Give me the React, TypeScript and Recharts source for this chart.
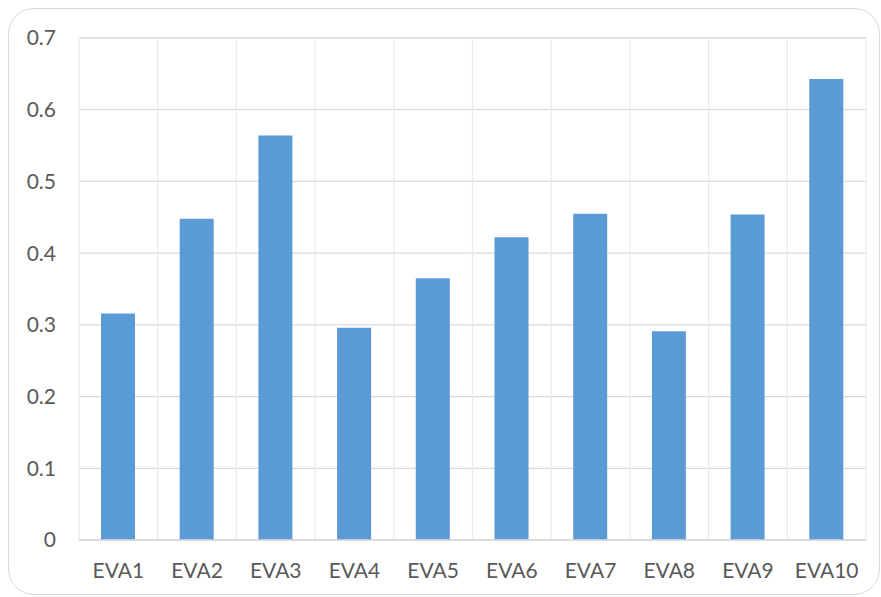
import React from "react";
import { BarChart, Bar, XAxis, YAxis, CartesianGrid } from "recharts";

const categories = ["EVA1", "EVA2", "EVA3", "EVA4", "EVA5", "EVA6", "EVA7", "EVA8", "EVA9", "EVA10"];
const values = [0.316, 0.448, 0.564, 0.296, 0.365, 0.422, 0.455, 0.291, 0.454, 0.643];
const yTicks = [0, 0.1, 0.2, 0.3, 0.4, 0.5, 0.6, 0.7];

const data = categories.map((name, i) => ({ name, value: values[i] }));

const FONT = "Lato, 'Open Sans', sans-serif";
const TEXT = "#595959";

export default function App() {
  return (
    <div style={{ position: "absolute", left: 0, top: 0, width: 881, height: 597, background: "#fff", overflow: "hidden" }}>
      <div
        style={{
          position: "absolute",
          left: 8,
          top: 8,
          width: 872,
          height: 587,
          border: "1.5px solid #d9d9d9",
          borderRadius: 26,
          boxSizing: "border-box",
        }}
      />
      <div style={{ position: "absolute", left: 0, top: 0 }}>
        <BarChart
          width={881}
          height={597}
          data={data}
          margin={{ top: 38, right: 15, left: 0, bottom: 0 }}
          barSize={34}
        >
          <CartesianGrid horizontal={true} vertical={false} stroke="#d9d9d9" strokeWidth={1.3} />
          <CartesianGrid
            horizontal={false}
            vertical={true}
            stroke="#ececec"
            strokeWidth={1.3}
            verticalCoordinatesGenerator={({ offset }: any) =>
              Array.from({ length: categories.length + 1 }, (_, i) => offset.left + (i * offset.width) / categories.length)
            }
          />
          <XAxis
            dataKey="name"
            height={57}
            axisLine={{ stroke: "#d9d9d9", strokeWidth: 1.3 }}
            tickLine={false}
            tickSize={0}
            tickMargin={23}
            tick={{ fill: TEXT, fontSize: 21, fontFamily: FONT }}
            interval={0}
          />
          <YAxis
            width={79}
            domain={[0, 0.7]}
            ticks={yTicks}
            axisLine={false}
            tickLine={false}
            tickSize={0}
            tickMargin={23}
            tick={{ fill: TEXT, fontSize: 21, fontFamily: FONT }}
            interval={0}
          />
          <Bar dataKey="value" fill="#5B9BD5" isAnimationActive={false} />
        </BarChart>
      </div>
    </div>
  );
}
